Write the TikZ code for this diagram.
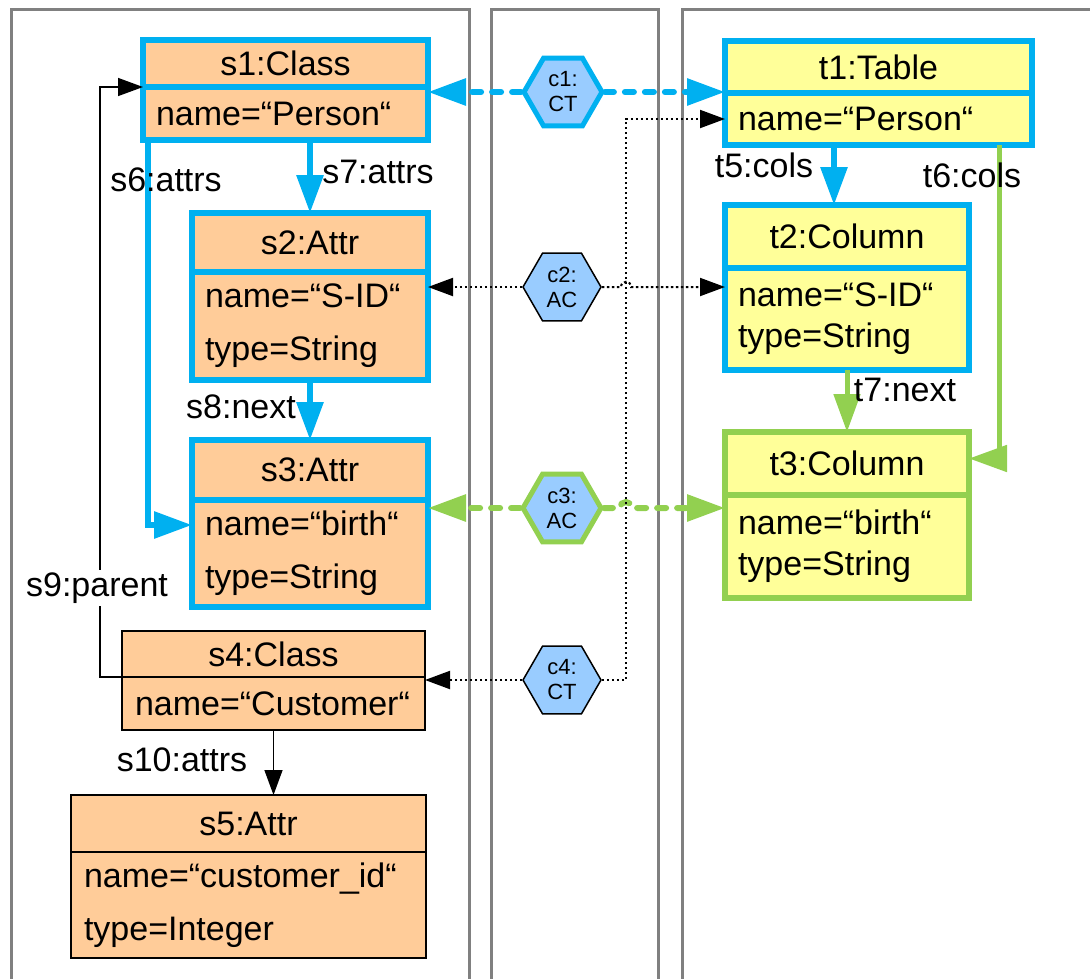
\documentclass[tikz,border=0pt]{standalone}
\usepackage{fontspec}
\setmainfont{Liberation Sans}
\usepackage{xcolor}
\usetikzlibrary{
  arrows.meta,
  positioning,
  calc,
  shapes.geometric
}
\definecolor{srcfill}{HTML}{FFCC99}
\definecolor{tgtfill}{HTML}{FFFF99}
\definecolor{corrfill}{HTML}{99CCFF}
\definecolor{matchblue}{HTML}{00B0F0}
\definecolor{matchgreen}{HTML}{92D050}
\definecolor{lanegray}{HTML}{808080}
\newcommand{\txt}{\fontsize{34}{40}\selectfont}

\begin{document}
\begin{tikzpicture}[
  x=1pt, y=-1pt,
  hd/.style={draw, outer sep=0pt, inner sep=0pt, font=\txt},
  bd/.style={draw, outer sep=0pt, inner xsep=13pt, inner ysep=0pt, align=left, font=\fontsize{34}{53}\selectfont},
  tbd/.style={bd, font=\fontsize{34}{41}\selectfont},
  sbox/.style={fill=srcfill, draw=matchblue, line width=6pt},
  sthin/.style={fill=srcfill, draw=black, line width=1.5pt},
  tbox/.style={fill=tgtfill, draw=matchblue, line width=6pt},
  tgbox/.style={fill=tgtfill, draw=matchgreen, line width=6pt},
  corr/.style={regular polygon, regular polygon sides=6, minimum size=78pt, inner sep=0pt, fill=corrfill, align=center, font=\fontsize{22}{25}\selectfont},
  lbl/.style={font=\txt, inner sep=1pt},
  lane/.style={draw=lanegray, line width=3pt},
  blu/.style={draw=matchblue, line width=6pt, -{Triangle[length=38pt,width=26pt]}},
  grn/.style={draw=matchgreen, line width=5pt, -{Triangle[length=38pt,width=26pt]}},
  thinarr/.style={line width=1.5pt, -{Triangle[length=25pt,width=18pt]}},
  dotarr/.style={thinarr, line width=2pt, dash pattern=on 2.5pt off 2.5pt},
  bludash/.style={blu, line cap=round, dash pattern=on 9pt off 11pt},
  grndash/.style={grn, line width=6pt, line cap=round, dash pattern=on 9pt off 11pt},
]
  \useasboundingbox (0,0) rectangle (1090,978);
  \fill[white] (0,0) rectangle (1090,978);

  % Lanes
  \draw[lane] (11,9) rectangle (469,1000);
  \draw[lane] (491,9) rectangle (658,1000);
  \draw[lane] (682,9) rectangle (1110,1000);

  % Helper x positions
  \coordinate (bendL) at (100,0);
  \coordinate (s6x) at (148,0);
  \coordinate (jmp) at (626,0);
  \coordinate (t5x) at (834,0);
  \coordinate (t6x) at (999,0);

  % Source model
  \node[hd, sbox, minimum width=285pt, minimum height=47pt] (s1h) at (285.5,63.5) {s1:Class};
  \node[bd, sbox, text width=259pt, minimum height=53pt, below=0pt of s1h] (s1b) {name=“Person“};
  \node[hd, sbox, minimum width=236pt, minimum height=59pt] (s2h) at (310,242.5) {s2:Attr};
  \node[bd, sbox, text width=210pt, minimum height=108pt, below=0pt of s2h] (s2b) {name=“S-ID“\\type=String};
  \node[hd, sbox, minimum width=236pt, minimum height=60pt] (s3h) at (310,470) {s3:Attr};
  \node[bd, sbox, text width=210pt, minimum height=107pt, below=0pt of s3h] (s3b) {name=“birth“\\type=String};
  \node[hd, sthin, minimum width=303pt, minimum height=46pt] (s4h) at (273.5,654) {s4:Class};
  \node[bd, sthin, text width=277pt, minimum height=53pt, below=0pt of s4h] (s4b) {name=“Customer“};
  \node[hd, sthin, minimum width=355pt, minimum height=57pt] (s5h) at (248.5,823.5) {s5:Attr};
  \node[bd, sthin, text width=329pt, minimum height=106pt, below=0pt of s5h] (s5b) {name=“customer\_id“\\type=Integer};

  % Target model
  \node[hd, tbox, minimum width=307pt, minimum height=52pt] (t1h) at (878.5,67) {t1:Table};
  \node[bd, tbox, text width=281pt, minimum height=52pt, below=0pt of t1h] (t1b) {name=“Person“};
  \node[hd, tbox, minimum width=244pt, minimum height=63pt] (t2h) at (847,236.5) {t2:Column};
  \node[tbd, tbox, text width=218pt, minimum height=102pt, below=0pt of t2h] (t2b) {name=“S-ID“\\type=String};
  \node[hd, tgbox, minimum width=244pt, minimum height=63pt] (t3h) at (847,463.5) {t3:Column};
  \node[tbd, tgbox, text width=218pt, minimum height=103pt, below=0pt of t3h] (t3b) {name=“birth“\\type=String};

  % Source links
  \draw[blu] (s1b.south -| s6x) |- ($(s3b.north west)+(0,25)$);
  \node[lbl] (s6l) at (166,180) {s6:attrs};
  \draw[blu] (s1b.south -| s2h.north) -- (s2h.north);
  \node[lbl] (s7l) at (378,172) {s7:attrs};
  \draw[blu] (s2b.south) -- (s3h.north);
  \node[lbl] (s8l) at (241,407) {s8:next};
  \draw[thinarr] (s4h.south west) -- (s4h.south west -| bendL) |- (s1h.south west);
  \node[lbl, fill=white, inner sep=3pt] (s9l) at (97,588) {s9:parent};
  \draw[thinarr] (s4b.south) -- (s4b.south |- s5h.north);
  \node[lbl] (s10l) at (182,760) {s10:attrs};

  % Target links
  \draw[blu] (t1b.south -| t5x) -- (t2h.north -| t5x);
  \node[lbl] (t5l) at (764,165) {t5:cols};
  \draw[grn] (t1b.south -| t6x) |- ($(t3h.east)+(0,-5)$);
  \node[lbl] (t6l) at (972,175) {t6:cols};
  \draw[grn] (t2b.south) -- (t3h.north);
  \node[lbl] (t7l) at (905,390) {t7:next};

  % Correspondences
  \node[corr, draw=matchblue, line width=5pt] (c1) at (563,92) {c1:\\CT};
  \node[corr, draw=black, line width=1.5pt] (c2) at (562,287) {c2:\\AC};
  \node[corr, draw=matchgreen, line width=5pt] (c3) at (562,508) {c3:\\AC};
  \node[corr, draw=black, line width=1.5pt] (c4) at (562,680) {c4:\\CT};

  \draw[bludash] (c1.west) -- (c1.west -| s1b.east);
  \draw[bludash] (c1.east) -- (c1.east -| t1h.west);
  \draw[dotarr] (c2.west) -- (c2.west -| s2b.east);
  \draw[dotarr] (c2.east) -- ($(c2.east -| jmp)+(-5,0)$)
    .. controls +(0,-7) and +(0,-7) .. ($(c2.east -| jmp)+(5,0)$) -- (c2.east -| t2b.west);
  \draw[grndash] (c3.west) -- (c3.west -| s3b.east);
  \draw[grndash] (c3.east) -- ($(c3.east -| jmp)+(-6,0)$)
    .. controls +(0,-8) and +(0,-8) .. ($(c3.east -| jmp)+(6,0)$) -- (c3.east -| t3b.west);
  \draw[dotarr] (c4.west) -- (c4.west -| s4b.east);
  \draw[dotarr] (c4.east) -- (c4.east -| jmp) |- (t1b.west);
\end{tikzpicture}
\end{document}
